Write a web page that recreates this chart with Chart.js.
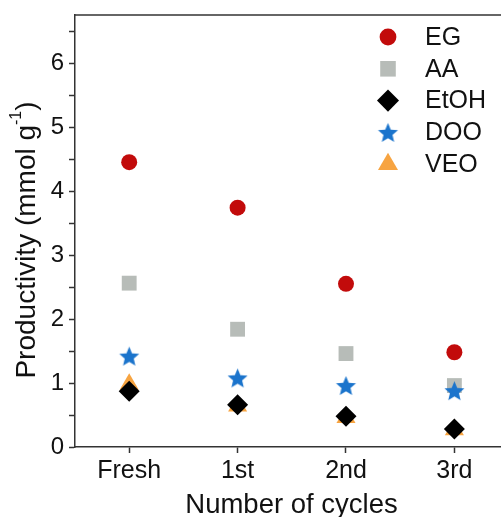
<!DOCTYPE html>
<html>
<head>
<meta charset="utf-8">
<script src="https://cdn.jsdelivr.net/npm/chart.js@4/dist/chart.umd.min.js"></script>
<style>
  html, body { margin: 0; padding: 0; background: #fff; }
  #wrap { width: 501px; height: 517px; position: relative; }
</style>
</head>
<body>
<div id="wrap"><canvas id="c" width="501" height="517"></canvas></div>
<script>
// ---- Data ----
const categories = ['Fresh', '1st', '2nd', '3rd'];
const seriesNames = ['EG', 'AA', 'EtOH', 'DOO', 'VEO'];
const EG   = [4.45, 3.74, 2.55, 1.48];
const AA   = [2.56, 1.84, 1.46, 0.96];
const EtOH = [0.87, 0.66, 0.48, 0.28];
const DOO  = [1.42, 1.08, 0.96, 0.88];
const VEO  = [0.98, 0.64, 0.46, 0.27];
const yTickValues = [0, 1, 2, 3, 4, 5, 6];

const FONT = "'Liberation Sans', Arial, sans-serif";
const TEXT = '#111';
const AXIS = '#333';

// star marker drawn on a small canvas
function makeStar(color, R, ratio) {
  const size = Math.ceil(R * 2 + 2);
  const cv = document.createElement('canvas');
  cv.width = size; cv.height = size;
  const c = cv.getContext('2d');
  const cx = size / 2, cy = size / 2 + R * 0.1;
  c.beginPath();
  for (let i = 0; i < 10; i++) {
    const r = i % 2 === 0 ? R : R * ratio;
    const a = -Math.PI / 2 + i * Math.PI / 5;
    const x = cx + r * Math.cos(a), y = cy + r * Math.sin(a);
    if (i === 0) c.moveTo(x, y); else c.lineTo(x, y);
  }
  c.closePath();
  c.fillStyle = color;
  c.fill();
  return cv;
}
const starImg = makeStar('#1b74cc', 10.5, 0.45);

function pts(arr) { return arr.map((v, i) => ({ x: i, y: v })); }

const styles = {
  EG:   { data: EG,   color: '#c20b0b', pointStyle: 'circle',   radius: 8 },
  AA:   { data: AA,   color: '#b7bcb8', pointStyle: 'rect',     radius: 10.5 },
  EtOH: { data: EtOH, color: '#000000', pointStyle: 'rectRot',  radius: 10.5 },
  DOO:  { data: DOO,  color: '#1b74cc', pointStyle: starImg,    radius: 10 },
  VEO:  { data: VEO,  color: '#f7a441', pointStyle: 'triangle', radius: 11 }
};

// draw order: first dataset is drawn on top
const drawOrder = ['EG', 'DOO', 'EtOH', 'AA', 'VEO'];
const datasets = drawOrder.map(name => ({
  label: name,
  data: pts(styles[name].data),
  pointStyle: styles[name].pointStyle,
  pointRadius: styles[name].radius,
  pointHoverRadius: styles[name].radius,
  pointBackgroundColor: styles[name].color,
  pointBorderColor: styles[name].color,
  pointBorderWidth: 0,
  showLine: false
}));

const decorPlugin = {
  id: 'decor',
  afterDraw(chart) {
    const ctx = chart.ctx;
    const a = chart.chartArea;
    ctx.save();
    // top border
    ctx.strokeStyle = AXIS;
    ctx.lineWidth = 1.5;
    ctx.beginPath();
    ctx.moveTo(a.left, a.top);
    ctx.lineTo(a.right, a.top);
    ctx.stroke();

    // legend
    const lx = 388, tx = 425, y0 = 37, dy = 31.8;
    seriesNames.forEach((name, i) => {
      const s = styles[name];
      const y = y0 + i * dy;
      ctx.fillStyle = s.color;
      ctx.strokeStyle = s.color;
      Chart.helpers.drawPoint(ctx, { pointStyle: s.pointStyle, radius: s.radius * 1.05, rotation: 0, borderWidth: 0 }, lx, y);
      ctx.fillStyle = TEXT;
      ctx.font = '25px ' + FONT;
      ctx.textAlign = 'left';
      ctx.textBaseline = 'middle';
      ctx.fillText(name, tx, y + 1);
    });

    // x title
    ctx.fillStyle = TEXT;
    ctx.font = '27.5px ' + FONT;
    ctx.textAlign = 'center';
    ctx.textBaseline = 'alphabetic';
    ctx.fillText('Number of cycles', 291.5, 513);

    // y title with superscript
    ctx.translate(27, 240);
    ctx.rotate(-Math.PI / 2);
    const big = '28px ' + FONT, small = '16px ' + FONT;
    const p1 = 'Productivity (mmol g', p2 = '-1', p3 = ')';
    ctx.font = big; const w1 = ctx.measureText(p1).width, w3 = ctx.measureText(p3).width;
    ctx.font = small; const w2 = ctx.measureText(p2).width;
    let x = -(w1 + w2 + w3) / 2;
    ctx.textAlign = 'left';
    ctx.textBaseline = 'middle';
    ctx.font = big; ctx.fillText(p1, x, 0); x += w1;
    ctx.font = small; ctx.fillText(p2, x, -10); x += w2;
    ctx.font = big; ctx.fillText(p3, x, 0);
    ctx.restore();
  }
};

new Chart(document.getElementById('c'), {
  type: 'scatter',
  data: { datasets },
  plugins: [decorPlugin],
  options: {
    responsive: false,
    animation: false,
    devicePixelRatio: 1,
    layout: { autoPadding: false, padding: { top: 15, right: 0, left: 0, bottom: 0 } },
    plugins: { legend: { display: false }, tooltip: { enabled: false } },
    scales: {
      x: {
        type: 'linear',
        min: -0.5,
        max: 3.43,
        afterBuildTicks: s => { s.ticks = categories.map((c, i) => ({ value: i })); },
        afterFit: s => { s.height = 70; s.paddingLeft = 0; s.paddingRight = 0; },
        ticks: {
          autoSkip: false,
          maxRotation: 0,
          padding: 3,
          color: TEXT,
          font: { family: FONT, size: 25 },
          callback: v => categories[v] ?? ''
        },
        grid: { drawOnChartArea: false, drawTicks: true, tickLength: 6, color: AXIS, tickWidth: 1.5 },
        border: { display: true, color: AXIS, width: 1.5 },
        title: { display: false }
      },
      y: {
        type: 'linear',
        min: 0,
        max: 6.75,
        afterBuildTicks: s => {
          const t = [];
          for (let v = 0; v <= 6.5 + 1e-9; v += 0.5) t.push({ value: Math.round(v * 2) / 2 });
          s.ticks = t;
        },
        afterFit: s => { s.width = 75; s.paddingTop = 0; s.paddingBottom = 0; },
        ticks: {
          autoSkip: false,
          padding: 5,
          color: TEXT,
          font: { family: FONT, size: 24 },
          callback: v => (yTickValues.includes(v) ? String(v) : '')
        },
        grid: { drawOnChartArea: false, drawTicks: true, tickLength: 6, color: AXIS, tickWidth: 1.5 },
        border: { display: true, color: AXIS, width: 1.5 },
        title: { display: false }
      }
    }
  }
});
</script>
</body>
</html>
